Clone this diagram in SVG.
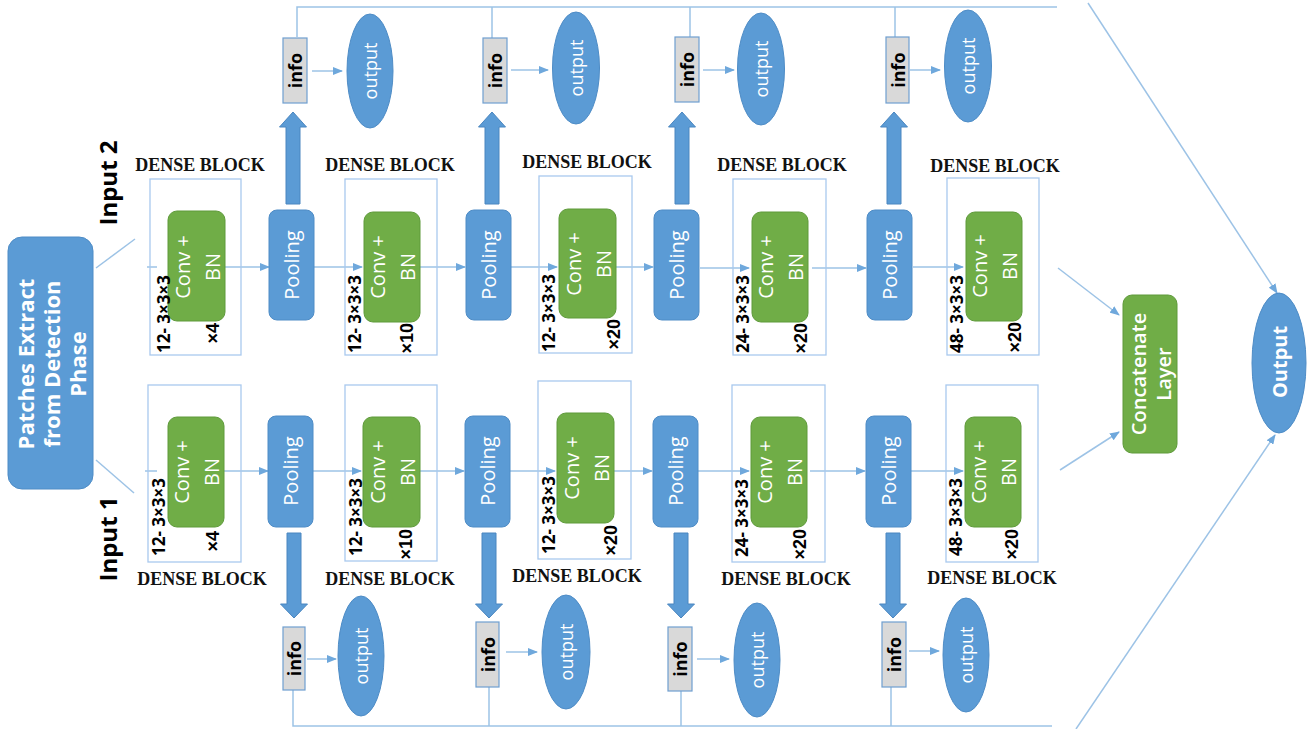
<svg xmlns="http://www.w3.org/2000/svg" width="1311" height="729" viewBox="0 0 1311 729">
<defs>
<marker id="ah" markerUnits="userSpaceOnUse" markerWidth="10" markerHeight="8" refX="9" refY="4" orient="auto">
<path d="M0,0 L10,4 L0,8 Z" fill="#6fa8dc"/>
</marker>
<style>
.blk{fill:none;stroke:#a9c9ee;stroke-width:1.3}
.conv{fill:#70ad47;stroke:#5f9a3b;stroke-width:1}
.pool{fill:#5b9bd5;stroke:#4e8cc6;stroke-width:1}
.info{fill:#d9d9d9;stroke:#6f9fd0;stroke-width:1.2}
.out{fill:#5b9bd5;stroke:#4e8cc6;stroke-width:1}
.ln{fill:none;stroke:#9dc3e6;stroke-width:1.5}
.ar{fill:none;stroke:#9dc3e6;stroke-width:1.5;marker-end:url(#ah)}
.fat{fill:#5b9bd5;stroke:#4a86c0;stroke-width:1}
.w{fill:#fff;font-family:"Open Sans","Liberation Sans",sans-serif;dominant-baseline:central;text-anchor:middle}
.k{fill:#000;font-family:"Open Sans","Liberation Sans",sans-serif;font-weight:bold;dominant-baseline:central}
.db{fill:#111;font-family:"Liberation Serif","Times New Roman",serif;font-weight:bold;font-size:18px;text-anchor:middle;dominant-baseline:central}
.cv{font-size:20px}
.pl{font-size:20px}
.lab{font-size:17px;text-anchor:start}
.mul{font-size:18px;text-anchor:end;font-family:"Liberation Sans","Open Sans",sans-serif}
.inf{font-size:18px;text-anchor:middle}
.op{font-size:18px}
</style>
</defs>

<!-- connectors -->
<g id="connectors">
<line class="ln" x1="96" y1="268" x2="135" y2="239"/>
<line class="ln" x1="96" y1="460" x2="134" y2="493"/>
<!-- top row flow -->
<line class="ln" x1="147" y1="267" x2="157" y2="267"/>
<line class="ar" x1="225" y1="267" x2="269" y2="267"/>
<line class="ar" x1="314" y1="267" x2="362" y2="267"/>
<line class="ar" x1="420" y1="267" x2="465" y2="267"/>
<line class="ar" x1="511" y1="267" x2="557" y2="267"/>
<line class="ar" x1="616" y1="267" x2="653" y2="267"/>
<line class="ar" x1="700" y1="268" x2="749" y2="268"/>
<line class="ar" x1="812" y1="268" x2="866" y2="268"/>
<line class="ar" x1="913" y1="267" x2="963" y2="267"/>
<!-- bottom row flow -->
<line class="ln" x1="145" y1="471" x2="157" y2="471"/>
<line class="ar" x1="224" y1="471" x2="268" y2="471"/>
<line class="ar" x1="313" y1="471" x2="361" y2="471"/>
<line class="ar" x1="420" y1="471" x2="464" y2="471"/>
<line class="ar" x1="510" y1="471" x2="555" y2="471"/>
<line class="ar" x1="614" y1="471" x2="652" y2="471"/>
<line class="ar" x1="698" y1="471" x2="749" y2="471"/>
<line class="ar" x1="810" y1="471" x2="865" y2="471"/>
<line class="ar" x1="911" y1="471" x2="963" y2="471"/>
<!-- to concat -->
<line class="ar" x1="1058" y1="268" x2="1119" y2="315"/>
<line class="ar" x1="1060" y1="470" x2="1119" y2="432"/>
<!-- top bus -->
<polyline class="ln" points="297,37 297,7 1057,7"/>
<line class="ln" x1="492" y1="38" x2="492" y2="7"/>
<line class="ln" x1="690" y1="37" x2="690" y2="7"/>
<line class="ln" x1="895" y1="37" x2="895" y2="7"/>
<line class="ar" x1="1088" y1="3" x2="1277" y2="293"/>
<!-- bottom bus -->
<polyline class="ln" points="293,690 293,726 1052,726"/>
<line class="ln" x1="489" y1="687" x2="489" y2="726"/>
<line class="ln" x1="681" y1="691" x2="681" y2="726"/>
<line class="ln" x1="891" y1="687" x2="891" y2="726"/>
<line class="ar" x1="1076" y1="729" x2="1275" y2="435"/>
<!-- info to output -->
<line class="ar" x1="312" y1="71" x2="342" y2="71"/>
<line class="ar" x1="511" y1="70" x2="548" y2="70"/>
<line class="ar" x1="703" y1="70" x2="734" y2="70"/>
<line class="ar" x1="910" y1="70" x2="940" y2="70"/>
<line class="ar" x1="307" y1="659" x2="336" y2="659"/>
<line class="ar" x1="506" y1="652" x2="537" y2="652"/>
<line class="ar" x1="697" y1="659" x2="729" y2="659"/>
<line class="ar" x1="909" y1="651" x2="939" y2="651"/>
<!-- thick arrows up (top row) -->
<polygon class="fat" points="286,204 286,127 279.5,127 293,112 306.5,127 300,127 300,204"/>
<polygon class="fat" points="485,204 485,127 478.5,127 492,112 505.5,127 499,127 499,204"/>
<polygon class="fat" points="675,204 675,127 668.5,127 682,112 695.5,127 689,127 689,204"/>
<polygon class="fat" points="887,204 887,127 880.5,127 894,112 907.5,127 901,127 901,204"/>
<!-- thick arrows down (bottom row) -->
<polygon class="fat" points="287,533 287,604 280.5,604 294,618 307.5,604 301,604 301,533"/>
<polygon class="fat" points="482,533 482,604 475.5,604 489,618 502.5,604 496,604 496,533"/>
<polygon class="fat" points="674,533 674,604 667.5,604 681,618 694.5,604 688,604 688,533"/>
<polygon class="fat" points="886,533 886,604 879.5,604 893,618 906.5,604 900,604 900,533"/>
</g>

<!-- source -->
<g id="patches">
<rect x="8" y="237" width="85" height="252" rx="14" class="pool"/>
<text class="w" font-size="22" font-weight="bold" transform="translate(51,364) rotate(-90)"><tspan x="0" y="-26">Patches Extract</tspan><tspan x="0" y="0">from Detection</tspan><tspan x="0" y="26">Phase</tspan></text>
</g>
<g id="input2"><text class="k" font-size="24" text-anchor="middle" transform="translate(107,183) rotate(-90)">Input 2</text></g>
<g id="input1"><text class="k" font-size="24" text-anchor="middle" transform="translate(107,539) rotate(-90)">Input 1</text></g>

<!-- top row dense blocks -->
<g id="dense-t1">
<text class="db" x="200" y="165">DENSE BLOCK</text>
<rect class="blk" x="150" y="179" width="91" height="176"/>
<rect class="conv" x="168" y="211" width="57" height="110" rx="9"/>
<text class="w cv" transform="translate(196.5,267) rotate(-90)"><tspan x="0" y="-15">Conv +</tspan><tspan x="0" y="15">BN</tspan></text>
<text class="k lab" transform="translate(163,353) rotate(-90)">12- 3×3×3</text>
<text class="k mul" transform="translate(213,323) rotate(-90)">×4</text>
</g>
<g id="dense-t2">
<text class="db" x="390" y="165">DENSE BLOCK</text>
<rect class="blk" x="345" y="179" width="92" height="176"/>
<rect class="conv" x="364" y="212" width="56" height="110" rx="9"/>
<text class="w cv" transform="translate(392,267) rotate(-90)"><tspan x="0" y="-15">Conv +</tspan><tspan x="0" y="15">BN</tspan></text>
<text class="k lab" transform="translate(354,353) rotate(-90)">12- 3×3×3</text>
<text class="k mul" transform="translate(407,323) rotate(-90)">×10</text>
</g>
<g id="dense-t3">
<text class="db" x="587" y="162">DENSE BLOCK</text>
<rect class="blk" x="539" y="176" width="93" height="177"/>
<rect class="conv" x="559" y="209" width="57" height="109" rx="9"/>
<text class="w cv" transform="translate(587.5,264) rotate(-90)"><tspan x="0" y="-15">Conv +</tspan><tspan x="0" y="15">BN</tspan></text>
<text class="k lab" transform="translate(548,352) rotate(-90)">12- 3×3×3</text>
<text class="k mul" transform="translate(614,319) rotate(-90)">×20</text>
</g>
<g id="dense-t4">
<text class="db" x="782" y="165">DENSE BLOCK</text>
<rect class="blk" x="733" y="179" width="93" height="176"/>
<rect class="conv" x="752" y="212" width="56" height="110" rx="9"/>
<text class="w cv" transform="translate(780,267) rotate(-90)"><tspan x="0" y="-15">Conv +</tspan><tspan x="0" y="15">BN</tspan></text>
<text class="k lab" transform="translate(742,353) rotate(-90)">24- 3×3×3</text>
<text class="k mul" transform="translate(801,323) rotate(-90)">×20</text>
</g>
<g id="dense-t5">
<text class="db" x="995" y="166">DENSE BLOCK</text>
<rect class="blk" x="947" y="178" width="92" height="177"/>
<rect class="conv" x="966" y="212" width="56" height="109" rx="9"/>
<text class="w cv" transform="translate(994,266) rotate(-90)"><tspan x="0" y="-15">Conv +</tspan><tspan x="0" y="15">BN</tspan></text>
<text class="k lab" transform="translate(956,353) rotate(-90)">48- 3×3×3</text>
<text class="k mul" transform="translate(1015,322) rotate(-90)">×20</text>
</g>

<!-- top pooling -->
<g id="pool-t1"><rect class="pool" x="269" y="210" width="45" height="110" rx="8"/><text class="w pl" transform="translate(291.5,265) rotate(-90)">Pooling</text></g>
<g id="pool-t2"><rect class="pool" x="466" y="210" width="45" height="110" rx="8"/><text class="w pl" transform="translate(488.5,265) rotate(-90)">Pooling</text></g>
<g id="pool-t3"><rect class="pool" x="654" y="210" width="45" height="110" rx="8"/><text class="w pl" transform="translate(676.5,265) rotate(-90)">Pooling</text></g>
<g id="pool-t4"><rect class="pool" x="867" y="210" width="45" height="110" rx="8"/><text class="w pl" transform="translate(889.5,265) rotate(-90)">Pooling</text></g>

<!-- top info / output -->
<g id="info-t1"><rect class="info" x="283" y="38" width="24" height="65"/><text class="k inf" transform="translate(295,70.5) rotate(-90)">info</text></g>
<g id="info-t2"><rect class="info" x="483" y="38" width="24" height="65"/><text class="k inf" transform="translate(495,70.5) rotate(-90)">info</text></g>
<g id="info-t3"><rect class="info" x="675" y="37" width="24" height="65"/><text class="k inf" transform="translate(687,69.5) rotate(-90)">info</text></g>
<g id="info-t4"><rect class="info" x="886" y="37" width="23" height="66"/><text class="k inf" transform="translate(897.5,70) rotate(-90)">info</text></g>
<g id="out-t1"><ellipse class="out" cx="370" cy="71" rx="23" ry="57"/><text class="w op" transform="translate(370,71) rotate(-90)">output</text></g>
<g id="out-t2"><ellipse class="out" cx="576" cy="68" rx="23.5" ry="56"/><text class="w op" transform="translate(576,68) rotate(-90)">output</text></g>
<g id="out-t3"><ellipse class="out" cx="761" cy="69" rx="23.5" ry="56"/><text class="w op" transform="translate(761,69) rotate(-90)">output</text></g>
<g id="out-t4"><ellipse class="out" cx="968" cy="66" rx="23.5" ry="56"/><text class="w op" transform="translate(968,66) rotate(-90)">output</text></g>

<!-- bottom row dense blocks -->
<g id="dense-b1">
<rect class="blk" x="148" y="385" width="93" height="177"/>
<rect class="conv" x="168" y="417" width="56" height="110" rx="9"/>
<text class="w cv" transform="translate(196,472) rotate(-90)"><tspan x="0" y="-15">Conv +</tspan><tspan x="0" y="15">BN</tspan></text>
<text class="k lab" transform="translate(158,556) rotate(-90)">12- 3×3×3</text>
<text class="k mul" transform="translate(213,531) rotate(-90)">×4</text>
<text class="db" x="202" y="579">DENSE BLOCK</text>
</g>
<g id="dense-b2">
<rect class="blk" x="345" y="385" width="92" height="176"/>
<rect class="conv" x="363" y="417" width="57" height="110" rx="9"/>
<text class="w cv" transform="translate(391.5,472) rotate(-90)"><tspan x="0" y="-15">Conv +</tspan><tspan x="0" y="15">BN</tspan></text>
<text class="k lab" transform="translate(355,556) rotate(-90)">12- 3×3×3</text>
<text class="k mul" transform="translate(406,529) rotate(-90)">×10</text>
<text class="db" x="390" y="579">DENSE BLOCK</text>
</g>
<g id="dense-b3">
<rect class="blk" x="538" y="381" width="93" height="178"/>
<rect class="conv" x="557" y="413" width="57" height="110" rx="9"/>
<text class="w cv" transform="translate(585.5,468) rotate(-90)"><tspan x="0" y="-15">Conv +</tspan><tspan x="0" y="15">BN</tspan></text>
<text class="k lab" transform="translate(548,554) rotate(-90)">12- 3×3×3</text>
<text class="k mul" transform="translate(611,525) rotate(-90)">×20</text>
<text class="db" x="577" y="576">DENSE BLOCK</text>
</g>
<g id="dense-b4">
<rect class="blk" x="732" y="385" width="93" height="177"/>
<rect class="conv" x="751" y="417" width="56" height="110" rx="9"/>
<text class="w cv" transform="translate(779,472) rotate(-90)"><tspan x="0" y="-15">Conv +</tspan><tspan x="0" y="15">BN</tspan></text>
<text class="k lab" transform="translate(741,557) rotate(-90)">24- 3×3×3</text>
<text class="k mul" transform="translate(800,529) rotate(-90)">×20</text>
<text class="db" x="786" y="579">DENSE BLOCK</text>
</g>
<g id="dense-b5">
<rect class="blk" x="946" y="385" width="92" height="177"/>
<rect class="conv" x="965" y="417" width="56" height="110" rx="9"/>
<text class="w cv" transform="translate(993,472) rotate(-90)"><tspan x="0" y="-15">Conv +</tspan><tspan x="0" y="15">BN</tspan></text>
<text class="k lab" transform="translate(955,556) rotate(-90)">48- 3×3×3</text>
<text class="k mul" transform="translate(1012,529) rotate(-90)">×20</text>
<text class="db" x="992" y="578">DENSE BLOCK</text>
</g>

<!-- bottom pooling -->
<g id="pool-b1"><rect class="pool" x="268" y="416" width="45" height="111" rx="8"/><text class="w pl" transform="translate(290.5,471) rotate(-90)">Pooling</text></g>
<g id="pool-b2"><rect class="pool" x="465" y="416" width="45" height="111" rx="8"/><text class="w pl" transform="translate(487.5,471) rotate(-90)">Pooling</text></g>
<g id="pool-b3"><rect class="pool" x="653" y="416" width="45" height="111" rx="8"/><text class="w pl" transform="translate(675.5,471) rotate(-90)">Pooling</text></g>
<g id="pool-b4"><rect class="pool" x="866" y="416" width="45" height="111" rx="8"/><text class="w pl" transform="translate(888.5,471) rotate(-90)">Pooling</text></g>

<!-- bottom info / output -->
<g id="info-b1"><rect class="info" x="283" y="627" width="22" height="63"/><text class="k inf" transform="translate(294,658.5) rotate(-90)">info</text></g>
<g id="info-b2"><rect class="info" x="476" y="622" width="23" height="65"/><text class="k inf" transform="translate(487.5,654.5) rotate(-90)">info</text></g>
<g id="info-b3"><rect class="info" x="668" y="627" width="24" height="64"/><text class="k inf" transform="translate(680,659) rotate(-90)">info</text></g>
<g id="info-b4"><rect class="info" x="882" y="622" width="24" height="65"/><text class="k inf" transform="translate(894,654.5) rotate(-90)">info</text></g>
<g id="out-b1"><ellipse class="out" cx="361" cy="656" rx="23" ry="60"/><text class="w op" transform="translate(361,656) rotate(-90)">output</text></g>
<g id="out-b2"><ellipse class="out" cx="566" cy="652" rx="24" ry="57"/><text class="w op" transform="translate(566,652) rotate(-90)">output</text></g>
<g id="out-b3"><ellipse class="out" cx="757" cy="660" rx="23" ry="57"/><text class="w op" transform="translate(757,660) rotate(-90)">output</text></g>
<g id="out-b4"><ellipse class="out" cx="966" cy="655" rx="23" ry="57"/><text class="w op" transform="translate(966,655) rotate(-90)">output</text></g>

<!-- right side -->
<g id="concat">
<rect class="conv" x="1123" y="295" width="54" height="158" rx="9"/>
<text class="w" font-size="20" font-weight="600" transform="translate(1150,374) rotate(-90)"><tspan x="0" y="-12.5">Concatenate</tspan><tspan x="0" y="12.5">Layer</tspan></text>
</g>
<g id="final-output">
<ellipse class="out" cx="1279" cy="363" rx="27" ry="70"/>
<text class="w" font-size="20" font-weight="bold" transform="translate(1279,362) rotate(-90)">Output</text>
</g>
</svg>
